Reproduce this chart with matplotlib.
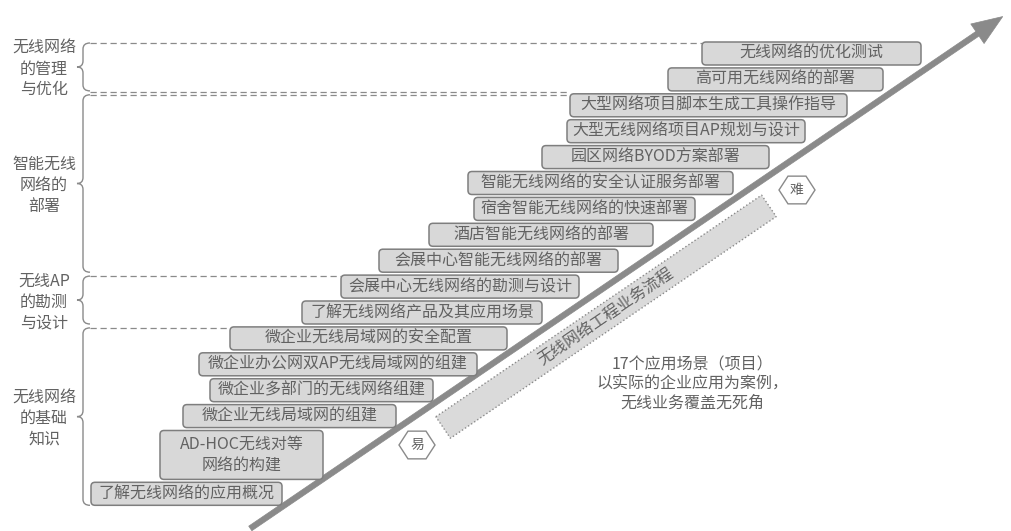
import numpy as np
import matplotlib.pyplot as plt
from matplotlib.patches import FancyBboxPatch, Polygon, PathPatch, FancyArrowPatch
from matplotlib.path import Path

plt.rcParams['font.family'] = ['Noto Sans CJK SC', 'DejaVu Sans']

# step items, top (hardest) to bottom (easiest)
steps = ['无线网络的优化测试', '高可用无线网络的部署', '大型网络项目脚本生成工具操作指导',
         '大型无线网络项目AP规划与设计', '园区网络BYOD方案部署', '智能无线网络的安全认证服务部署',
         '宿舍智能无线网络的快速部署', '酒店智能无线网络的部署', '会展中心智能无线网络的部署',
         '会展中心无线网络的勘测与设计', '了解无线网络产品及其应用场景', '微企业无线局域网的安全配置',
         '微企业办公网双AP无线局域网的组建', '微企业多部门的无线网络组建', '微企业无线局域网的组建',
         'AD-HOC无线对等\n网络的构建', '了解无线网络的应用概况']
step_left = [702, 668, 570, 567, 542, 468, 474, 429, 379, 341, 302, 230, 199, 210, 183, 160, 91]
step_right = [921, 883, 847, 805, 769, 733, 695, 653, 618, 579, 542, 507, 477, 433, 396, 323, 282]
step_rows = [1, 1, 1, 1, 1, 1, 1, 1, 1, 1, 1, 1, 1, 1, 1, 2, 1]

# stage groups (label, first step index, last step index)
groups = ['无线网络\n的管理\n与优化', '智能无线\n网络的\n部署', '无线AP\n的勘测\n与设计', '无线网络\n的基础\n知识']
group_first = [0, 2, 9, 11]
group_last = [1, 8, 10, 16]

band_text = '无线网络工程业务流程'
note_text = '17个应用场景（项目）\n以实际的企业应用为案例，\n无线业务覆盖无死角'

W, H = 1011, 531
fig = plt.figure(figsize=(W / 100, H / 100), dpi=100)
ax = fig.add_axes([0, 0, 1, 1])
ax.set_xlim(0, W)
ax.set_ylim(H, 0)
ax.axis('off')

txt_col = '#626262'
box_fill = '#d8d8d8'
box_edge = '#7e7e7e'

# row layout
top0, pitch, box_h = 42, 25.9, 23
tops, bottoms = [], []
unit = 0
for r in step_rows:
    t = top0 + unit * pitch
    tops.append(t)
    bottoms.append(t + box_h + (r - 1) * pitch)
    unit += r

for lab, x0, x1, t, b in zip(steps, step_left, step_right, tops, bottoms):
    ax.add_patch(FancyBboxPatch((x0, t), x1 - x0, b - t,
                                boxstyle='round,pad=0,rounding_size=4',
                                fc=box_fill, ec=box_edge, lw=1.1, zorder=3))
    ax.text((x0 + x1) / 2, (t + b) / 2, lab, ha='center', va='center',
            fontsize=11.5, color=txt_col, linespacing=1.35, zorder=4)


def brace(x_end, x_spine, x_tip, y0, y1, r=6):
    ym = (y0 + y1) / 2
    verts = [(x_end, y0), (x_spine, y0), (x_spine, y0 + r),
             (x_spine, ym - r), (x_spine, ym), (x_tip, ym),
             (x_spine, ym), (x_spine, ym + r),
             (x_spine, y1 - r), (x_spine, y1), (x_end, y1)]
    codes = [Path.MOVETO, Path.CURVE3, Path.CURVE3,
             Path.LINETO, Path.CURVE3, Path.CURVE3,
             Path.CURVE3, Path.CURVE3,
             Path.LINETO, Path.CURVE3, Path.CURVE3]
    ax.add_patch(PathPatch(Path(verts, codes), fc='none', ec='#8a8a8a', lw=1.0))


for g, (lab, i0, i1) in enumerate(zip(groups, group_first, group_last)):
    y0 = tops[i0] + 1
    y1 = bottoms[i1]
    brace(90, 83, 77, y0, y1)
    ax.text(44, (y0 + y1) / 2 + 2, lab, ha='center', va='center', fontsize=11.5,
            color=txt_col, linespacing=1.3)
    # dashed guide lines at group boundaries
    ax.plot([90, step_left[i0]], [y0, y0], ls=(0, (5, 3)), color='#8a8a8a', lw=0.9)
    if g == 0:
        ax.plot([90, step_left[2]], [y1 + 1, y1 + 1], ls=(0, (5, 3)), color='#8a8a8a', lw=0.9)

# main arrow
p0 = np.array([248, 530])
p1 = np.array([1005, 15])
ax.add_patch(FancyArrowPatch(tuple(p0), tuple(p1),
                             arrowstyle='simple,head_length=1.1,head_width=0.85,tail_width=0.2',
                             mutation_scale=20, fc='#8a8a8a', ec='#8a8a8a', lw=0.5, zorder=2))

# band along the arrow
d = (p1 - p0) / np.linalg.norm(p1 - p0)
n = np.array([-d[1], d[0]])
if n[1] < 0:
    n = -n
off, half = 25, 13
t0, t1 = 219, 613
c0 = p0 + d * t0 + n * off
c1 = p0 + d * t1 + n * off
band = [c0 - n * half, c1 - n * half, c1 + n * half, c0 + n * half]
ax.add_patch(Polygon(band, closed=True, fc='#dadada', ec='#8a8a8a', lw=1.0, ls=':', zorder=2))
ang = np.degrees(np.arctan2(-(p1 - p0)[1], (p1 - p0)[0]))
cm = (c0 + c1) / 2
ax.text(cm[0], cm[1], band_text, rotation=ang, rotation_mode='anchor', ha='center',
        va='center', fontsize=11.5, color=txt_col, zorder=3)


def hexagon(cx, cy, lab, rx=18, ry=16):
    a = np.radians(np.arange(0, 360, 60))
    pts = np.column_stack([cx + rx * np.cos(a), cy + ry * np.sin(a)])
    ax.add_patch(Polygon(pts, closed=True, fc='white', ec='#8a8a8a', lw=1.0, zorder=3))
    ax.text(cx, cy, lab, ha='center', va='center', fontsize=10, color=txt_col, zorder=4)


hexagon(417, 445, '易')
hexagon(797, 190, '难')

ax.text(692, 384, note_text, ha='center', va='center', fontsize=11.5,
        color=txt_col, linespacing=1.15)

fig.savefig('out.png', dpi=100)
